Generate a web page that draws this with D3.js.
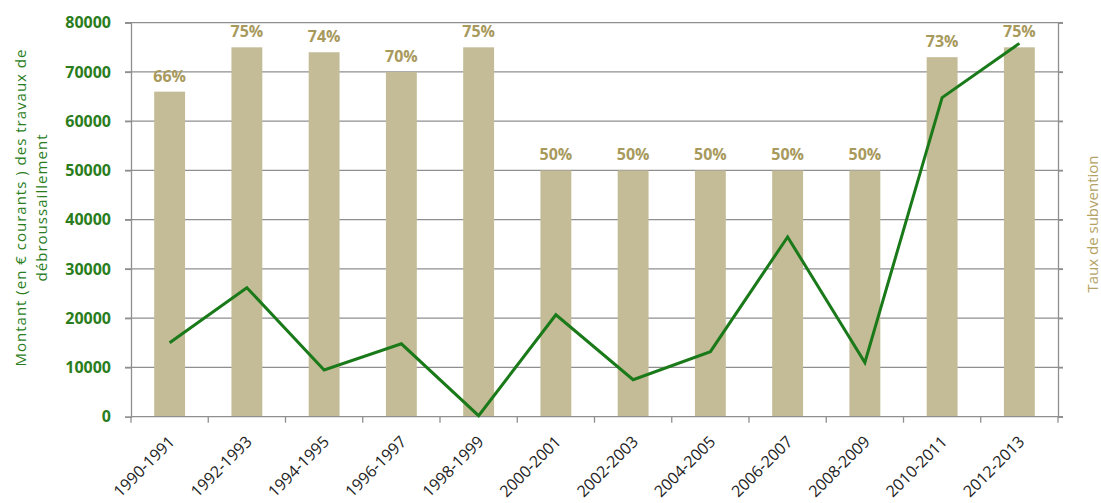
<!DOCTYPE html>
<html><head><meta charset="utf-8">
<script src="https://cdn.jsdelivr.net/npm/d3@7"></script>
<style>body{margin:0;background:#fff}svg{display:block}</style>
</head><body>
<svg id="c" width="1101" height="503"></svg>
<script>
const categories = ["1990-1991","1992-1993","1994-1995","1996-1997","1998-1999","2000-2001","2002-2003","2004-2005","2006-2007","2008-2009","2010-2011","2012-2013"];
const tauxSubvention = [66,75,74,70,75,50,50,50,50,50,73,75];
const montant = [15000,26200,9500,14800,200,20700,7500,13200,36500,11000,64800,75800];
const yTicks = [0,10000,20000,30000,40000,50000,60000,70000,80000];

const svg = d3.select("#c");
const L = 131, R = 1058, T = 22.7, B = 416.7;
const x = d3.scaleBand().domain(categories).range([L,R]).paddingInner(0).paddingOuter(0);
const y = d3.scaleLinear().domain([0,80000]).range([B,T]);
const y2 = d3.scaleLinear().domain([0,80]).range([B,T]);
const grid = "#8f8f8f";

// gridlines
svg.append("g").selectAll("line").data(yTicks.filter(d=>d>0)).join("line")
  .attr("x1",L-6).attr("x2",R+5).attr("y1",d=>y(d)).attr("y2",d=>y(d))
  .attr("stroke",grid).attr("stroke-width",1.3);

// left axis
const ya = svg.append("g").attr("transform",`translate(${L},0)`)
  .call(d3.axisLeft(y).tickValues(yTicks).tickSize(6).tickPadding(14).tickFormat(d3.format("d")));
ya.select(".domain").attr("stroke",grid).attr("stroke-width",1.3);
ya.selectAll(".tick line").attr("stroke",grid).attr("stroke-width",1.3);
ya.selectAll("text").attr("fill","#2a7d1c").attr("font-family","Open Sans").attr("font-weight","bold").attr("font-size","16px");

// right axis (no labels)
const ra = svg.append("g").attr("transform",`translate(${R},0)`)
  .call(d3.axisRight(y2).tickValues(yTicks.map(d=>d/1000)).tickSize(5).tickFormat(""));
ra.select(".domain").attr("stroke",grid).attr("stroke-width",1.3);
ra.selectAll(".tick line").attr("stroke",grid).attr("stroke-width",1.3);

// bars
const bw = x.bandwidth()*0.4;
svg.append("g").selectAll("rect").data(categories).join("rect")
  .attr("x",(d)=>x(d)+x.bandwidth()/2-bw/2).attr("width",bw)
  .attr("y",(d,i)=>y2(tauxSubvention[i])).attr("height",(d,i)=>B-y2(tauxSubvention[i]))
  .attr("fill","#c4bc96");

// bar labels
svg.append("g").selectAll("text").data(categories).join("text")
  .attr("x",d=>x(d)+x.bandwidth()/2).attr("y",(d,i)=>y2(tauxSubvention[i])-10)
  .attr("text-anchor","middle").attr("font-family","Open Sans").attr("font-weight","bold")
  .attr("font-size","16px").attr("fill","#a8995c")
  .text((d,i)=>tauxSubvention[i]+"%");

// x axis
const xa = svg.append("g").attr("transform",`translate(0,${B})`);
xa.append("line").attr("x1",L).attr("x2",R+5).attr("stroke",grid).attr("stroke-width",1.3);
xa.selectAll(".tk").data(d3.range(categories.length+1)).join("line")
  .attr("x1",i=>L+i*x.step()).attr("x2",i=>L+i*x.step()).attr("y1",0).attr("y2",6)
  .attr("stroke",grid).attr("stroke-width",1.3);
xa.selectAll("text").data(categories).join("text")
  .attr("transform",d=>`translate(${x(d)+x.bandwidth()/2+6},26) rotate(-45)`)
  .attr("text-anchor","end").attr("font-family","Open Sans").attr("font-size","16px")
  .attr("fill","#222").text(d=>d);

// line
const line = d3.line().x((d,i)=>x(categories[i])+x.bandwidth()/2).y(d=>y(d));
svg.append("path").datum(montant).attr("d",line).attr("fill","none")
  .attr("stroke","#1a7a1a").attr("stroke-width",3).attr("stroke-linejoin","miter");

// axis titles
const lt = svg.append("text").attr("transform","translate(26,208) rotate(-90)")
  .attr("text-anchor","middle").attr("font-family","Open Sans").attr("font-size","15px").attr("fill","#2a7d1c");
lt.append("tspan").attr("x",0).attr("dy",0).attr("textLength",317).attr("lengthAdjust","spacing")
  .text("Montant  (en € courants ) des travaux de");
lt.append("tspan").attr("x",0).attr("dy","1.4em").attr("textLength",147).attr("lengthAdjust","spacing")
  .text("débroussaillement");

svg.append("text").attr("transform","translate(1098,224) rotate(-90)")
  .attr("text-anchor","middle").attr("font-family","Open Sans").attr("font-size","15px")
  .attr("fill","#b3a264").text("Taux de subvention");
</script>
</body></html>
